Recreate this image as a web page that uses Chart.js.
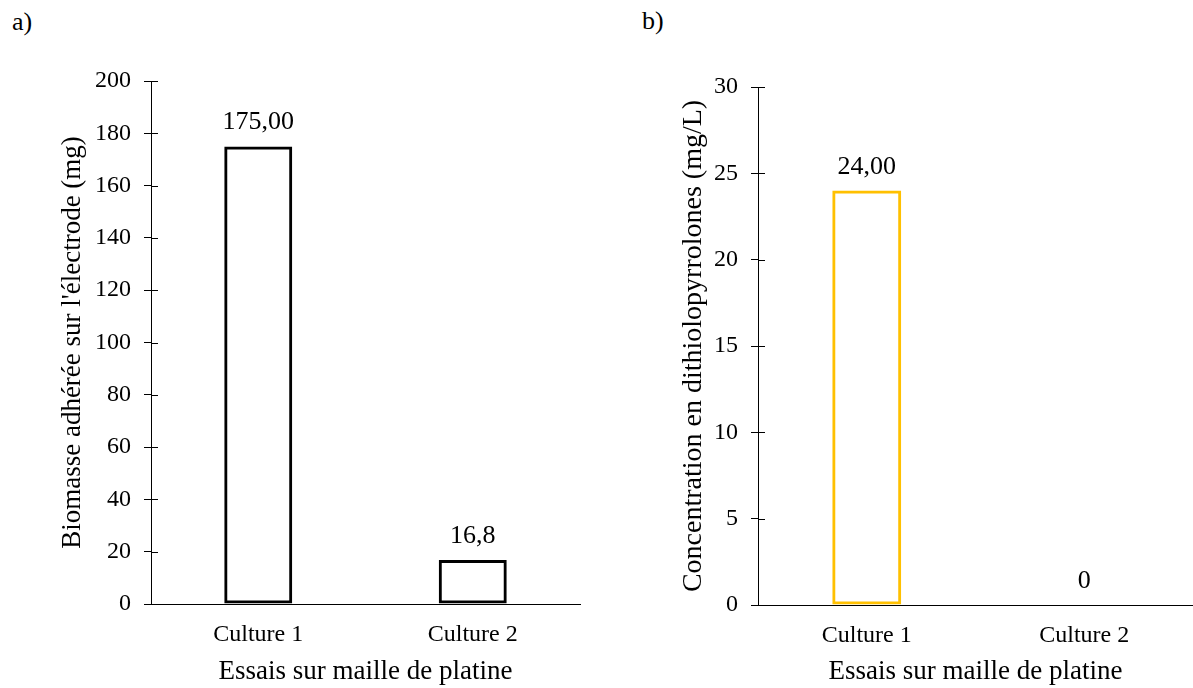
<!DOCTYPE html>
<html>
<head>
<meta charset="utf-8">
<script src="https://cdn.jsdelivr.net/npm/chart.js@4.4.0/dist/chart.umd.min.js"></script>
<style>
  body { margin: 0; background: #fff; width: 1193px; height: 688px; overflow: hidden; position: relative; font-family: 'Liberation Serif', serif; }
  .box { position: absolute; top: 0; height: 688px; }
  .tag { position: absolute; font-size: 26px; color: #000; line-height: 1; }
</style>
</head>
<body>
<div class="tag" style="left:12px; top:9px;">a)</div>
<div class="tag" style="left:642px; top:8px;">b)</div>
<div class="box" style="left:0; width:600px;"><canvas id="chartA"></canvas></div>
<div class="box" style="left:600px; width:593px;"><canvas id="chartB"></canvas></div>
<script>
const categories = ['Culture 1', 'Culture 2'];

const biomasse = [175, 16.8];
const biomasseLabels = ['175,00', '16,8'];

const dithiolo = [24, 0];
const dithioloLabels = ['24,00', '0'];

const xTitle = 'Essais sur maille de platine';
const yTitleA = "Biomasse adhérée sur l'électrode (mg)";
const yTitleB = 'Concentration en dithiolopyrrolones (mg/L)';

const serif = 'Liberation Serif';

// value labels above each bar
const valueLabels = {
    id: 'valueLabels',
    afterDatasetsDraw(chart, args, opts) {
        const ctx = chart.ctx;
        const meta = chart.getDatasetMeta(0);
        ctx.save();
        ctx.font = '26px "' + serif + '"';
        ctx.fillStyle = '#000';
        ctx.textAlign = 'center';
        ctx.textBaseline = 'alphabetic';
        meta.data.forEach(function(bar, i){
            ctx.fillText(opts.labels[i], bar.x, bar.y - 17);
        });
        ctx.restore();
    }
};

// tick marks that cross the y axis (inner half)
const innerTicks = {
    id: 'innerTicks',
    afterDraw(chart) {
        const ctx = chart.ctx;
        const y = chart.scales.y;
        const left = chart.chartArea.left;
        ctx.save();
        ctx.strokeStyle = '#000';
        ctx.lineWidth = 1;
        y.ticks.forEach(function(t, i){
            const py = Math.round(y.getPixelForTick(i)) + 0.5;
            ctx.beginPath();
            ctx.moveTo(left, py);
            ctx.lineTo(left + 7, py);
            ctx.stroke();
        });
        ctx.restore();
    }
};

function makeChart(id, values, labels, color, yMax, yStep, yTitle, yTitleSize, yTitlePad, pad, yWidth, xHeight){
    return new Chart(document.getElementById(id), {
        type: 'bar',
        data: {
            labels: categories,
            datasets: [{
                data: values,
                backgroundColor: 'rgba(0,0,0,0)',
                borderColor: color,
                borderWidth: 3,
                borderSkipped: false,
                categoryPercentage: 1,
                barPercentage: 0.317
            }]
        },
        options: {
            responsive: true,
            maintainAspectRatio: false,
            animation: false,
            layout: { padding: pad },
            plugins: {
                legend: { display: false },
                tooltip: { enabled: false },
                valueLabels: { labels: labels }
            },
            scales: {
                x: {
                    grid: { display: false, drawTicks: false, tickLength: 0 },
                    border: { color: '#000', width: 1 },
                    ticks: { color: '#000', font: { family: serif, size: 24 }, padding: 16, maxRotation: 0 },
                    title: { display: true, text: xTitle, color: '#000', font: { family: serif, size: 27 }, padding: 0 },
                    afterFit(s){ s.height = xHeight; }
                },
                y: {
                    min: 0,
                    max: yMax,
                    grid: { drawOnChartArea: false, drawTicks: true, tickLength: 7, color: '#000' },
                    border: { color: '#000', width: 1 },
                    ticks: { stepSize: yStep, color: '#000', font: { family: serif, size: 24 }, padding: 13 },
                    title: { display: true, text: yTitle, color: '#000', font: { family: serif, size: yTitleSize }, padding: { top: yTitlePad, bottom: 0 } },
                    afterFit(s){ s.width = yWidth; }
                }
            }
        },
        plugins: [valueLabels, innerTicks]
    });
}

makeChart('chartA', biomasse, biomasseLabels, '#000000', 200, 20, yTitleA, 27, 57,
    { left: 0, right: 20, top: 81, bottom: 0 }, 151, 84);
makeChart('chartB', dithiolo, dithioloLabels, '#FFC000', 30, 5, yTitleB, 28, 77,
    { left: 0, right: 0, top: 87, bottom: 0 }, 158, 83);
</script>
</body>
</html>
